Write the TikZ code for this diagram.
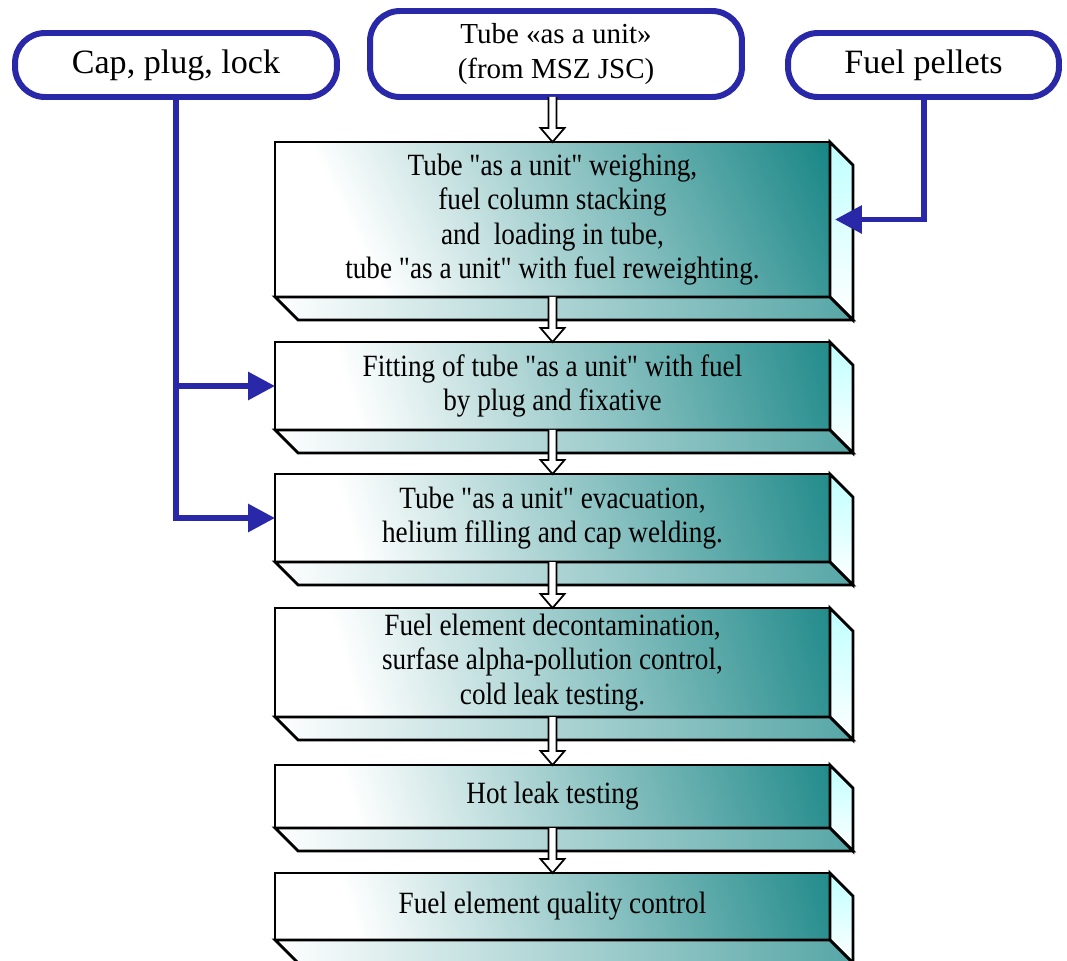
\documentclass[tikz,border=0pt]{standalone}
\usepackage{fontspec}
\setmainfont{Liberation Serif}
\newfontfamily\stepfont[FakeStretch=0.88]{Liberation Serif}
\usetikzlibrary{arrows.meta,calc}
\definecolor{feedblue}{RGB}{40,40,168}
\definecolor{boxteal}{RGB}{14,128,128}
\pgfdeclareverticalshading{stepshade}{100bp}{color(0bp)=(white); color(28bp)=(white); color(86bp)=(boxteal); color(100bp)=(boxteal)}

% hollow arrow from one step down to the next
\newcommand{\hollowarrow}[2]{%
  \draw[hollow] ($(#2|-#1)+(-4,0)$) -- ($(#2)+(-4,-14)$) -- ($(#2)+(-12,-14)$)
    -- (#2) -- ($(#2)+(12,-14)$) -- ($(#2)+(4,-14)$) -- ($(#2|-#1)+(4,0)$);}

\begin{document}
\begin{tikzpicture}[x=0.02cm, y=-0.02cm,
  source/.style={draw=feedblue, line width=3.4pt, rounded corners=0.6cm, fill=white, align=center, outer sep=0pt},
  stepbox/.style={draw, line width=1.6pt, minimum width=11.1cm, outer sep=0pt, align=center,
    shade, shading=stepshade, shading angle=-74,
    font=\stepfont\fontsize{17.6pt}{19.5pt}\selectfont},
  sideface/.style={draw, line width=1.6pt, top color=cyan!25, bottom color=white},
  bottomface/.style={draw, line width=1.6pt, left color=white, right color=boxteal!70!white},
  hollow/.style={draw, fill=white, line width=1pt},
  feed/.style={draw=feedblue, line width=3.4pt, -{Triangle[length=0.54cm, width=0.54cm]}}]
\useasboundingbox (0,0) rectangle (1067,960);

% Inputs
\node[source, minimum width=6.44cm, minimum height=1.28cm, font=\fontsize{19.4pt}{23pt}\selectfont] (cap) at (176,65) {Cap, plug, lock};
\node[source, minimum width=7.44cm, minimum height=1.72cm, font=\fontsize{16.5pt}{20pt}\selectfont] (tube) at (556,54) {Tube «as a unit»\\(from MSZ JSC)};
\node[source, minimum width=5.42cm, minimum height=1.28cm, font=\fontsize{19.4pt}{23pt}\selectfont] (pellets) at (923.5,65) {Fuel pellets};

% Process steps
\node[stepbox, minimum height=3.1cm, shading angle=-64] (b1) at (552.5,219.5) {Tube "as a unit" weighing,\\fuel column stacking\\and\ \ loading in tube,\\tube "as a unit" with fuel reweighting.};
\node[stepbox, minimum height=1.76cm] (b2) at (552.5,386) {Fitting of tube "as a unit" with fuel\\by plug and fixative};
\node[stepbox, minimum height=1.76cm] (b3) at (552.5,518) {Tube "as a unit" evacuation,\\helium filling and cap welding.};
\node[stepbox, minimum height=2.18cm] (b4) at (552.5,662.5) {Fuel element decontamination,\\surfase alpha-pollution control,\\cold leak testing.};
\node[stepbox, minimum height=1.26cm] (b5) at (552.5,796.5) {Hot leak testing};
\node[stepbox, minimum height=1.34cm] (b6) at (552.5,906.5) {Fuel element quality control};

% 3D sides
\foreach \i in {1,...,6} {
  \draw[sideface] (b\i.north east) -- ++(23,23) -- ($(b\i.south east)+(23,23)$) -- (b\i.south east) -- cycle;
  \draw[bottomface] (b\i.south west) -- ++(23,23) -- ($(b\i.south east)+(23,23)$) -- (b\i.south east) -- cycle;
}

% Flow
\hollowarrow{tube.south}{b1.north}
\foreach \i/\j in {1/2,2/3,3/4,4/5,5/6} {\hollowarrow{b\i.south}{b\j.north}}

\draw[feed] (cap.south) |- (b2.west);
\draw[feed] (cap.south) |- (b3.west);
\draw[feed] (pellets.south) |- ($(b1.east)+(5,0)$);
\end{tikzpicture}
\end{document}
